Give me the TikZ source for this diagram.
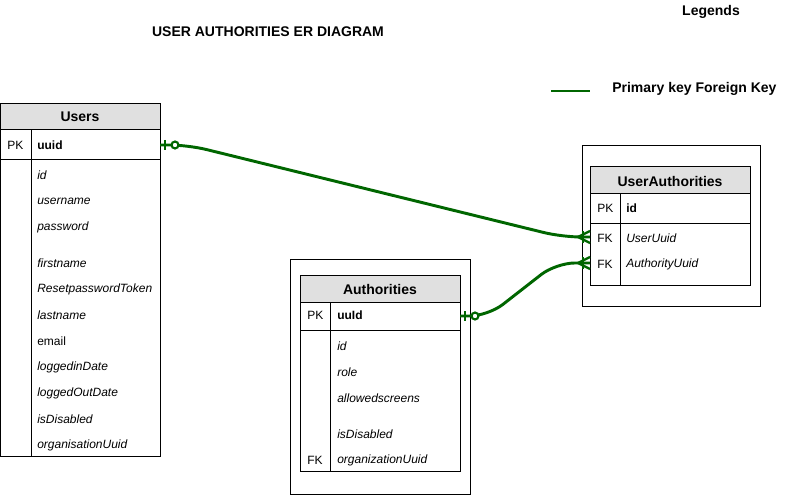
\documentclass[tikz,border=0pt]{standalone}
\usepackage{fontspec}
\setmainfont{Liberation Sans}
\usetikzlibrary{positioning}

\definecolor{relgreen}{RGB}{0,102,0}
\definecolor{hdrgray}{RGB}{224,224,224}

\tikzset{
  cell/.style={anchor=west,inner sep=0pt,font=\fontsize{9}{11}\selectfont},
  field/.style={cell,font=\fontsize{9}{11}\selectfont\itshape},
  keyfield/.style={cell,font=\fontsize{9}{11}\selectfont\bfseries},
  tablename/.style={inner sep=0pt,font=\fontsize{10.5}{12}\selectfont\bfseries},
  heading/.style={inner sep=0pt,font=\fontsize{10.5}{12}\selectfont\bfseries},
  tableline/.style={draw=black,line width=0.75pt},
  relation/.style={draw=relgreen,line width=2.2pt,rounded corners=14pt},
}

% relation ends
\newcommand{\ZeroOne}[1]{
\draw[relgreen,line width=2pt,shift={(#1)}] (5,-5) -- (5,5);
\draw[relgreen,line width=1.6pt,fill=white,shift={(#1)}] (15,0) circle (2.6pt);
}
\newcommand{\OneMany}[1]{
\draw[relgreen,line width=1.8pt,shift={(#1)}] (-12,0) -- (0,-6) (-12,0) -- (0,6);
\draw[relgreen,line width=2pt,shift={(#1)}] (-7,-6) -- (-7,6);
}

\begin{document}
\begin{tikzpicture}[x=0.75pt,y=-0.75pt]
\useasboundingbox (0,0) rectangle (791,495);

% titles and legend
\node[heading] (title) at (268,32) {USER AUTHORITIES ER DIAGRAM};
\node[heading] (legends) at (711,12) {Legends};
\coordinate (legA) at (551,91);
\coordinate (legB) at (590,91);
\draw[relgreen,line width=2.2pt] (legA) -- (legB);
\node[heading,anchor=west] (legtext) at (612,89) {Primary key Foreign Key};

% Users
\draw[tableline,fill=hdrgray] (0,104) rectangle (160,130);
\draw[tableline] (0,130) rectangle (160,456);
\draw[tableline] (0,160) -- (160,160);
\draw[tableline] (31,130) -- (31,456);
\node[tablename] (users) at (80,117) {Users};
\node[cell] (users-pk) at (7,145) {PK};
\node[keyfield] (users-uuid) at (37,145) {uuid};
\node[field] (users-id) at (37,175) {id};
\node[field] (users-username) at (37,201) {username};
\node[field] (users-password) at (37,227) {password};
\node[field] (users-firstname) at (37,263) {firstname};
\node[field] (users-token) at (37,289) {ResetpasswordToken};
\node[field] (users-lastname) at (37,315) {lastname};
\node[cell] (users-email) at (37,341) {email};
\node[field] (users-login) at (37,367) {loggedinDate};
\node[field] (users-logout) at (37,393) {loggedOutDate};
\node[field] (users-disabled) at (37,419) {isDisabled};
\node[field] (users-org) at (37,445) {organisationUuid};
\coordinate (users-out) at (160,145);

% UserAuthorities
\draw[tableline] (582,146) rectangle (760,306);
\draw[tableline,fill=hdrgray] (590,167) rectangle (750,194);
\draw[tableline] (590,194) rectangle (750,285);
\draw[tableline] (590,223) -- (750,223);
\draw[tableline] (620,194) -- (620,285);
\node[tablename] (ua) at (670,181) {UserAuthorities};
\node[cell] (ua-pk) at (597,208) {PK};
\node[keyfield] (ua-id) at (626,208) {id};
\node[cell] (ua-fk1) at (597,238) {FK};
\node[field] (ua-user) at (626,238) {UserUuid};
\node[cell] (ua-fk2) at (597,264) {FK};
\node[field] (ua-auth) at (626,264) {AuthorityUuid};
\coordinate (ua-in1) at (590,237);
\coordinate (ua-in2) at (590,263);

% Authorities
\draw[tableline] (290,259) rectangle (470,494);
\draw[tableline,fill=hdrgray] (300,275) rectangle (460,302);
\draw[tableline] (300,302) rectangle (460,471);
\draw[tableline] (300,330) -- (460,330);
\draw[tableline] (330,302) -- (330,471);
\node[tablename] (auth) at (380,289) {Authorities};
\node[cell] (auth-pk) at (307,315) {PK};
\node[keyfield] (auth-uuid) at (337,315) {uuId};
\node[field] (auth-id) at (337,346) {id};
\node[field] (auth-role) at (337,372) {role};
\node[field] (auth-screens) at (337,398) {allowedscreens};
\node[field] (auth-disabled) at (337,434) {isDisabled};
\node[cell] (auth-fk) at (307,460) {FK};
\node[field] (auth-org) at (337,460) {organizationUuid};
\coordinate (auth-out) at (460,316);

% relations
\draw[relation] (users-out) -- ++(28,0) -- (562,237) -- (ua-in1);
\draw[relation] (auth-out) -- ++(28,0) -- (556,263) -- (ua-in2);
\ZeroOne{users-out}
\ZeroOne{auth-out}
\OneMany{ua-in1}
\OneMany{ua-in2}
\end{tikzpicture}
\end{document}
